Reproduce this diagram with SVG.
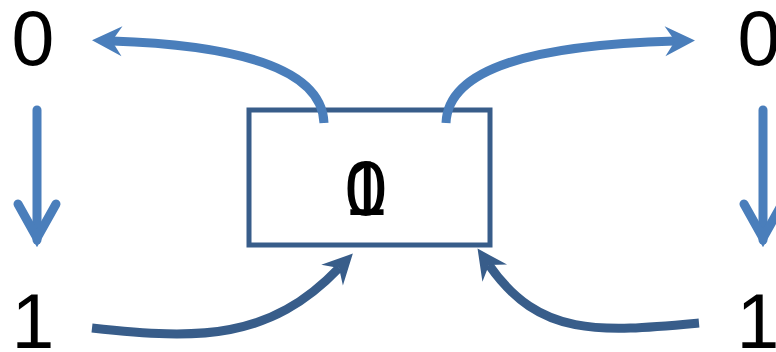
<svg xmlns="http://www.w3.org/2000/svg" width="776" height="352" viewBox="0 0 776 352">
<style>
.t{font-family:"Liberation Sans",Arial,sans-serif;font-size:77px;fill:#000;text-anchor:middle}
.l{fill:none;stroke:#4A7EBB;stroke-width:9}
.d{fill:none;stroke:#385D8A;stroke-width:9}
.v{fill:none;stroke:#4A7EBB;stroke-width:9;stroke-linecap:round;stroke-linejoin:miter}
</style>
<defs>
<marker id="hl" markerUnits="userSpaceOnUse" markerWidth="40" markerHeight="40" viewBox="-15 -20 40 40" refX="0" refY="0" orient="auto">
<path d="M20,0 L-10,-15 L0,0 L-10,15 Z" fill="#4A7EBB"/>
</marker>
<marker id="hd" markerUnits="userSpaceOnUse" markerWidth="40" markerHeight="40" viewBox="-15 -20 40 40" refX="0" refY="0" orient="auto">
<path d="M20,0 L-10,-15 L0,0 L-10,15 Z" fill="#385D8A"/>
</marker>
</defs>
<g id="box">
<rect x="249" y="110" width="241" height="135" fill="#fff" stroke="#385D8A" stroke-width="5"/>
<text class="t" x="366" y="215">0</text>
<text class="t" x="366" y="215">1</text>
</g>
<g id="tl"><text class="t" x="33" y="65">0</text></g>
<g id="bl"><text class="t" x="33" y="348">1</text></g>
<g id="tr"><text class="t" x="759" y="65">0</text></g>
<g id="br"><text class="t" x="758" y="348">1</text></g>
<g id="connectors">
<path class="l" d="M324,123 C322,68 236,45 112,41" marker-end="url(#hl)"/>
<path class="l" d="M446,123 C448,68 534,45 675,41" marker-end="url(#hl)"/>
<path class="d" d="M92,328 C200,340 270,340 339,268" marker-end="url(#hd)"/>
<path class="d" d="M699,323 C600,332 540,338 489,265" marker-end="url(#hd)"/>
<line class="v" x1="37" y1="110" x2="37" y2="240"/>
<polyline class="v" points="18,204 37,238 56,204"/>
<line class="v" x1="763" y1="110" x2="763" y2="240"/>
<polyline class="v" points="744,204 763,238 782,204"/>
</g>
</svg>
